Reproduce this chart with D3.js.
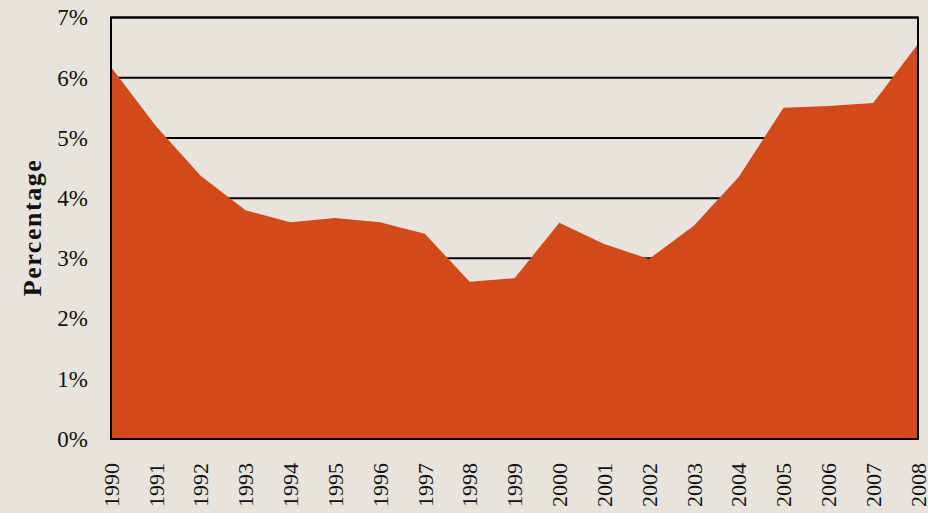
<!DOCTYPE html>
<html>
<head>
<meta charset="utf-8">
<script src="https://cdn.jsdelivr.net/npm/d3@7"></script>
<style>
  html, body { margin: 0; padding: 0; background: #e8e4dd; }
  svg { display: block; }
  text { font-family: "Liberation Serif", "DejaVu Serif", serif; fill: #111; }
</style>
</head>
<body>
<svg id="chart" width="928" height="513"></svg>
<script>
// Yearly share, in percent
const years = [1990, 1991, 1992, 1993, 1994, 1995, 1996, 1997, 1998, 1999,
               2000, 2001, 2002, 2003, 2004, 2005, 2006, 2007, 2008];
const values = [6.18, 5.2, 4.37, 3.8, 3.6, 3.67, 3.6, 3.41, 2.61, 2.67,
                3.59, 3.24, 2.99, 3.54, 4.35, 5.5, 5.53, 5.58, 6.56];
const yTicks = [0, 1, 2, 3, 4, 5, 6, 7];

const svg = d3.select("#chart");
const margin = { left: 111, right: 10, top: 17.5, bottom: 74 };
const W = 928, H = 513;

const x = d3.scalePoint().domain(years).range([margin.left, W - margin.right]);
const y = d3.scaleLinear().domain([0, 7]).range([H - margin.bottom, margin.top]);

// Gridlines
svg.append("g")
  .selectAll("line")
  .data(yTicks.slice(1))
  .join("line")
  .attr("x1", margin.left).attr("x2", W - margin.right)
  .attr("y1", d => y(d)).attr("y2", d => y(d))
  .attr("stroke", "#000").attr("stroke-width", 2);

// Area
const area = d3.area()
  .x((d, i) => x(years[i]))
  .y0(y(0))
  .y1(d => y(d));

svg.append("path")
  .datum(values)
  .attr("d", area)
  .attr("fill", "#d24a19");

// Plot frame
svg.append("rect")
  .attr("x", margin.left).attr("y", y(7))
  .attr("width", W - margin.right - margin.left)
  .attr("height", y(0) - y(7))
  .attr("fill", "none").attr("stroke", "#000").attr("stroke-width", 2);

// Y axis labels
const yAxis = d3.axisLeft(y).tickValues(yTicks).tickFormat(d => d + "%").tickSize(0).tickPadding(23);
const gy = svg.append("g").attr("transform", `translate(${margin.left},0)`).call(yAxis);
gy.select(".domain").remove();
gy.selectAll("text").attr("font-size", 23).attr("font-family", "Liberation Serif").attr("fill", "#111");

// X axis labels, rotated
const xAxis = d3.axisBottom(x).tickSize(0).tickPadding(0);
const gx = svg.append("g").attr("transform", `translate(0,${y(0)})`).call(xAxis);
gx.select(".domain").remove();
gx.selectAll("text")
  .attr("font-size", 22).attr("font-family", "Liberation Serif").attr("fill", "#111")
  .attr("text-anchor", "end")
  .attr("transform", "rotate(-90)")
  .attr("x", -24).attr("y", 0).attr("dy", "0.33em");

// Y axis title
svg.append("text")
  .attr("transform", `translate(41,${(y(0) + y(7)) / 2}) rotate(-90)`)
  .attr("text-anchor", "middle")
  .attr("font-size", 26).attr("font-weight", "bold")
  .attr("textLength", 136).attr("lengthAdjust", "spacing")
  .text("Percentage");
</script>
</body>
</html>
